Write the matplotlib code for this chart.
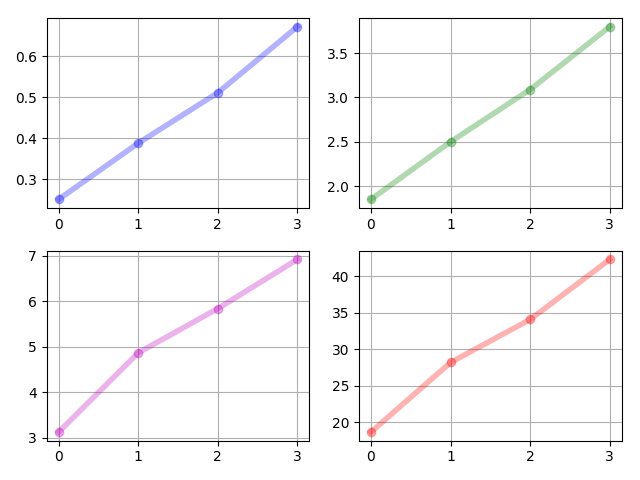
import matplotlib
matplotlib.use("Agg")
import matplotlib.pyplot as plt
import numpy as np

x = np.arange(4)
y_blue = [0.251, 0.388, 0.511, 0.672]
y_green = [1.85, 2.50, 3.09, 3.80]
y_magenta = [3.13, 4.87, 5.84, 6.92]
y_red = [18.65, 28.2, 34.1, 42.35]

fig, axes = plt.subplots(nrows=2, ncols=2, figsize=(6.4, 4.8), dpi=100)

series = [y_blue, y_green, y_magenta, y_red]
colors = ['b', 'g', 'm', 'r']
for ax, y, c in zip(axes.flat, series, colors):
    ax.plot(x, y, 'o-', color=c, lw=4, alpha=0.3)
    ax.set_xticks(x)
    ax.grid(True)

fig.subplots_adjust(left=0.073, right=0.9714, top=0.9625, bottom=0.0819,
                    wspace=0.189, hspace=0.225)
fig.savefig("out.png")
